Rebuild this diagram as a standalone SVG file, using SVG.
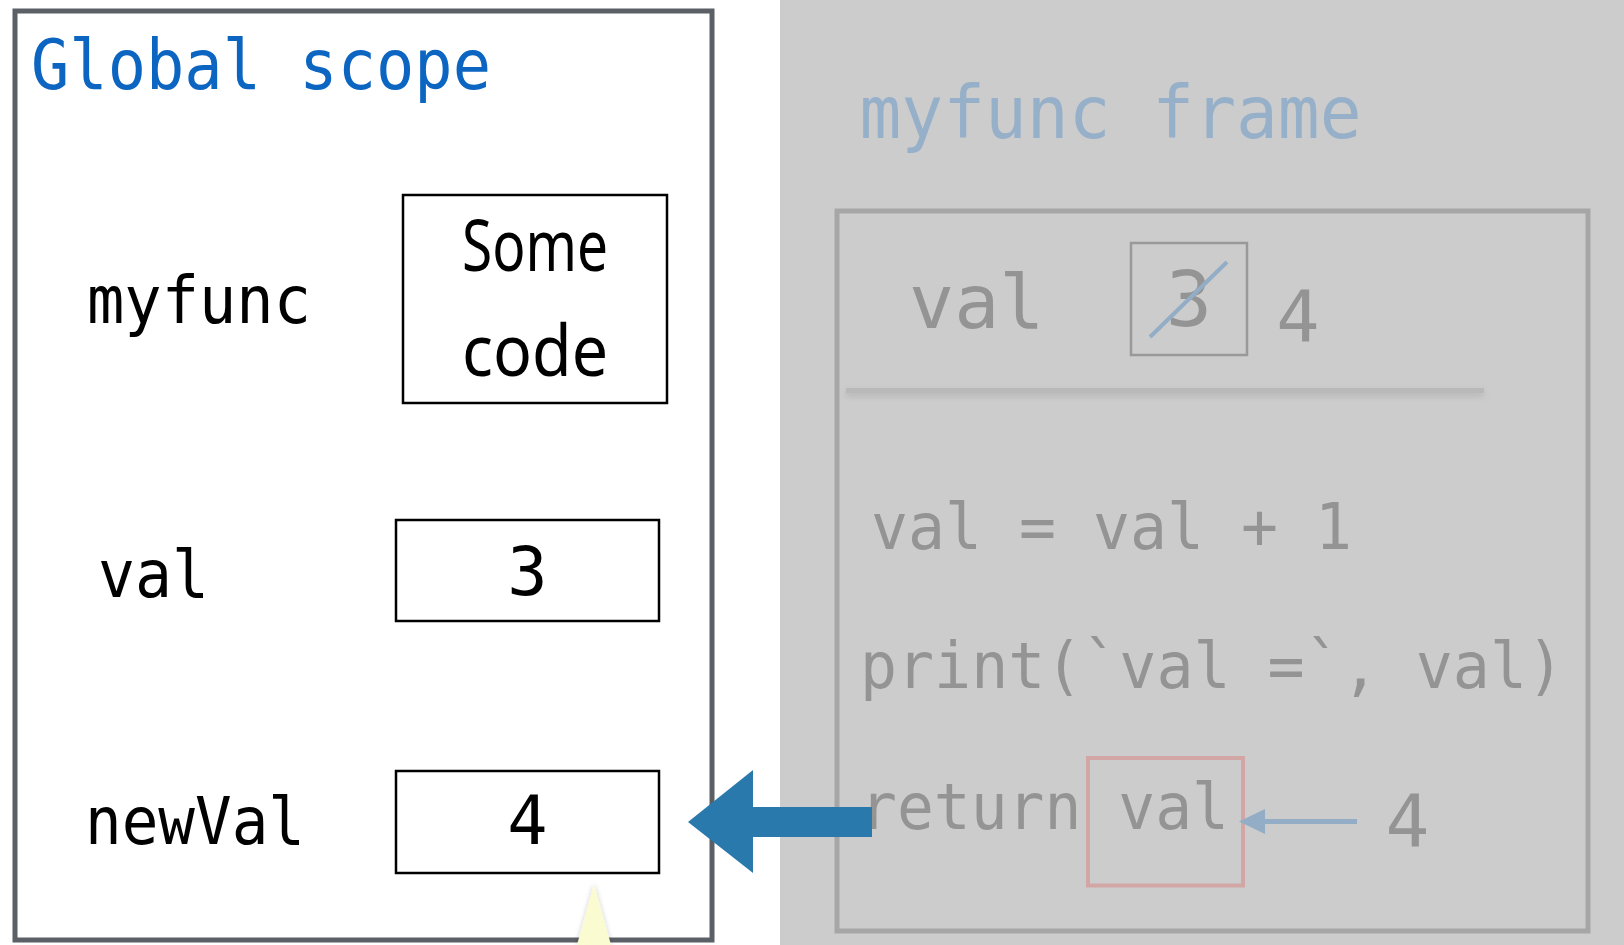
<svg xmlns="http://www.w3.org/2000/svg" width="1624" height="945" viewBox="0 0 1624 945">
<defs>
<style>
.mono{font-family:"DejaVu Sans Mono","Liberation Mono",monospace;}
.sans{font-family:"Noto Sans","Open Sans","DejaVu Sans",sans-serif;}
.blk{fill:#000;}
.gry{fill:#949494;}
.box{fill:#fff;stroke:#000;stroke-width:2.5;}
</style>
<filter id="sh" filterUnits="userSpaceOnUse" x="830" y="380" width="670" height="30">
<feDropShadow dx="0" dy="3" stdDeviation="3" flood-color="#000" flood-opacity="0.12"/>
</filter>
<filter id="tsh" x="-50%" y="-20%" width="200%" height="140%">
<feDropShadow dx="0" dy="0" stdDeviation="2.5" flood-color="#000" flood-opacity="0.2"/>
</filter>
</defs>
<rect x="0" y="0" width="1624" height="945" fill="#fff"/>
<rect x="780" y="0" width="844" height="945" fill="#cccccc"/>

<g id="global-scope">
<rect x="15" y="11" width="697" height="929" fill="#fff" stroke="#5b5f66" stroke-width="5"/>
<text class="mono" x="31" y="89" font-size="70" fill="#0d65c2" textLength="460" lengthAdjust="spacingAndGlyphs">Global scope</text>
</g>

<g id="myfunc">
<text class="mono blk" x="87" y="323" font-size="66" textLength="224" lengthAdjust="spacingAndGlyphs">myfunc</text>
<rect class="box" x="403" y="195" width="264" height="208"/>
<text class="sans blk" x="535" y="271" font-size="71" text-anchor="middle" textLength="146" lengthAdjust="spacingAndGlyphs">Some</text>
<text class="sans blk" x="535" y="376" font-size="71" text-anchor="middle" textLength="146" lengthAdjust="spacingAndGlyphs">code</text>
</g>

<g id="val">
<text class="mono blk" x="98" y="597" font-size="66" textLength="111" lengthAdjust="spacingAndGlyphs">val</text>
<rect class="box" x="396" y="520" width="263" height="101"/>
<text class="mono blk" x="527.5" y="594.5" font-size="67" text-anchor="middle">3</text>
</g>

<g id="newVal">
<text class="mono blk" x="85" y="844" font-size="66" textLength="220" lengthAdjust="spacingAndGlyphs">newVal</text>
<rect class="box" x="396" y="771" width="263" height="102"/>
<text class="mono blk" x="527.5" y="844" font-size="67" text-anchor="middle">4</text>
</g>

<g id="pointer">
<polygon points="594,884 611,945 577,945" fill="#fbfbd2" filter="url(#tsh)"/>
</g>

<g id="myfunc-frame">
<text class="mono" x="859.5" y="138" font-size="73" fill="#97b0c9" textLength="502" lengthAdjust="spacingAndGlyphs">myfunc frame</text>
<rect x="837" y="211" width="751" height="720" fill="none" stroke="#a6a6a6" stroke-width="5"/>
<rect x="846" y="388" width="638" height="5" fill="#b9b9b9" filter="url(#sh)"/>
</g>

<g id="frame-val">
<text class="mono gry" x="909" y="328" font-size="75">val</text>
<rect x="1131" y="243" width="116" height="112" fill="none" stroke="#999" stroke-width="2.5"/>
<text class="mono gry" x="1189" y="326" font-size="77" text-anchor="middle">3</text>
<line x1="1150" y1="337" x2="1227" y2="262" stroke="#93adc6" stroke-width="4"/>
<text class="mono gry" x="1298" y="341" font-size="72" text-anchor="middle">4</text>
</g>

<g id="code">
<text class="mono gry" x="871" y="549" font-size="64" textLength="481" lengthAdjust="spacingAndGlyphs">val = val + 1</text>
<text class="mono gry" x="860" y="688" font-size="64" textLength="704" lengthAdjust="spacingAndGlyphs">print(`val =`, val)</text>
<text class="mono gry" x="860" y="829" font-size="64" textLength="369" lengthAdjust="spacingAndGlyphs">return val</text>
<rect x="1088" y="758" width="155" height="127.5" fill="none" stroke="#d3a6a6" stroke-width="4"/>
<text class="mono gry" x="1407.5" y="846.5" font-size="73" text-anchor="middle">4</text>
</g>

<g id="connectors">
<line x1="1357" y1="821.5" x2="1260" y2="821.5" stroke="#93adc6" stroke-width="5"/>
<polygon points="1239,821.5 1265,809 1265,834" fill="#93adc6"/>
<polygon points="688,822 753,770 753,807 872,807 872,837 753,837 753,873" fill="#2a79ad"/>
</g>
</svg>
